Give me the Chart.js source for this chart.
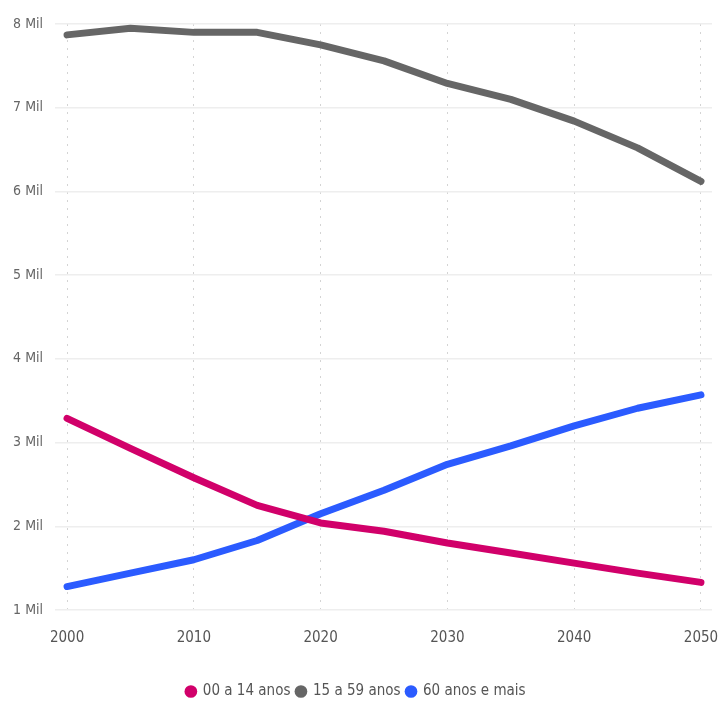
<!DOCTYPE html>
<html>
<head>
<meta charset="utf-8">
<script src="https://cdn.jsdelivr.net/npm/chart.js@4"></script>
<style>
html,body{margin:0;padding:0;background:#fff;}
#wrap{width:720px;height:702px;position:relative;}
</style>
</head>
<body>
<div id="wrap"><canvas id="c"></canvas></div>
<script>
const years = [2000,2005,2010,2015,2020,2025,2030,2035,2040,2045,2050];
const seriesNames = ["00 a 14 anos","15 a 59 anos","60 anos e mais"];
const age0014 = [3290,2930,2580,2250,2040,1940,1800,1680,1560,1440,1330];
const age1559 = [7870,7950,7900,7900,7750,7560,7290,7100,6840,6520,6120];
const age60p  = [1280,1440,1600,1830,2150,2430,2740,2960,3200,3410,3570];
const yTicks = [1000,2000,3000,4000,5000,6000,7000,8000];
const xTicks = [2000,2010,2020,2030,2040,2050];
const colors = ["#D1006A","#666666","#2B5BFF"];

const FONT = '"Liberation Sans Narrow","DejaVu Sans Condensed","Liberation Sans",sans-serif';
const toPts = arr => arr.map((v,i)=>({x:years[i],y:v}));
const mk = (label,data,color)=>({label,data:toPts(data),borderColor:color,backgroundColor:color,borderWidth:7,pointRadius:0,pointHoverRadius:0,tension:0,borderCapStyle:'round',borderJoinStyle:'round',fill:false});

new Chart(document.getElementById('c'),{
  type:'line',
  data:{datasets:[mk(seriesNames[0],age0014,colors[0]),mk(seriesNames[1],age1559,colors[1]),mk(seriesNames[2],age60p,colors[2])]},
  options:{
    responsive:true,maintainAspectRatio:false,animation:false,
    layout:{padding:{top:24,right:8,bottom:-7,left:0}},
    plugins:{
      tooltip:{enabled:false},
      legend:{position:'bottom',labels:{usePointStyle:true,pointStyle:'circle',boxWidth:9,boxHeight:9,padding:6,color:'#555',font:{family:FONT,size:15},
        generateLabels:(chart)=>Chart.defaults.plugins.legend.labels.generateLabels(chart).map(l=>Object.assign(l,{lineWidth:0}))}}
    },
    scales:{
      x:{type:'linear',min:1999.05,max:2050.87,
        afterBuildTicks:s=>{s.ticks=xTicks.map(v=>({value:v}));},
        afterFit:s=>{s.height=68;s.paddingLeft=0;s.paddingRight=0;},
        grid:{color:'#d4d4d4',lineWidth:1,drawTicks:false},
        border:{display:false,dash:[2,6]},
        ticks:{color:'#555',font:{family:FONT,size:15},padding:19,maxRotation:0,autoSkip:false,callback:v=>String(v)}
      },
      y:{min:1000,max:8000,
        afterBuildTicks:s=>{s.ticks=yTicks.map(v=>({value:v}));},
        afterFit:s=>{s.width=55;},
        grid:{color:'#eeeeee',lineWidth:1.5,drawTicks:false},
        border:{display:false},
        ticks:{color:'#666',font:{family:FONT,size:14},padding:12,callback:v=>(v/1000)+' Mil'}
      }
    }
  }
});
</script>
</body>
</html>
